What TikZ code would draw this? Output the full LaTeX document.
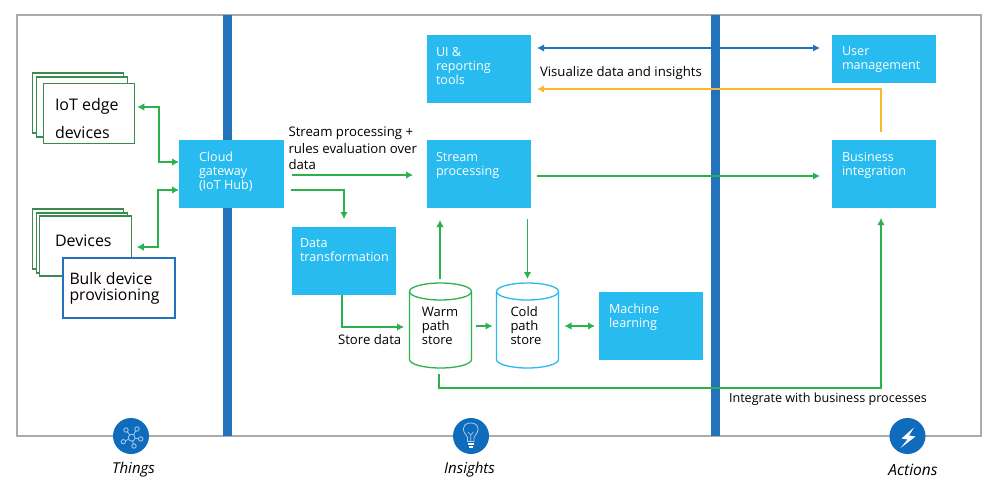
\documentclass[tikz,border=0pt]{standalone}
\usepackage{fontspec}
\setmainfont{Open Sans}
\usetikzlibrary{arrows.meta,calc}
\definecolor{cy}{HTML}{27BBEF}
\definecolor{barc}{HTML}{2273BC}
\definecolor{gr}{HTML}{2BB24C}
\definecolor{dgr}{HTML}{3C8B4E}
\definecolor{org}{HTML}{FBB82E}
\definecolor{framec}{HTML}{ABABAB}
\definecolor{discc}{HTML}{0F6CBD}
\definecolor{pale}{HTML}{A9CDEE}
\newcommand{\bxt}[4]{\parbox[c][#1pt][t]{#2pt}{\vspace*{#3pt}\fontsize{12.6}{14}\selectfont\color{white}\raggedright #4}}
\newcommand{\cylshape}[2]{%
 \draw[#2,line width=1.3pt] ([yshift=-8.5pt]#1.north) ellipse [x radius=31pt,y radius=8.5pt];
 \draw[#2,line width=1.3pt] ([yshift=-8.5pt]#1.north west) -- ([yshift=8.5pt]#1.south west) arc[start angle=180,end angle=360,x radius=31pt,y radius=8.5pt] -- ([yshift=-8.5pt]#1.north east);
}
\tikzset{
 x=1pt,y=-1pt,
 every node/.style={inner sep=0,outer sep=0},
 cybox/.style={fill=cy,draw=none,anchor=center},
 stack/.style={draw=dgr,line width=1.4pt,fill=white,minimum width=91.5pt,minimum height=60pt},
 flow/.style={gr,line width=1.2pt,-{Latex[length=7pt,width=7.5pt]}},
 both/.style={flow,{Latex[length=7pt,width=7.5pt]}-{Latex[length=7pt,width=7.5pt]}},
 lbl/.style={font=\fontsize{13.2}{16.5}\selectfont,align=left,anchor=west},
 store/.style={minimum width=62pt,minimum height=85pt},
 storetxt/.style={font=\fontsize{13}{14}\selectfont,align=left},
 discn/.style={circle,fill=discc,minimum size=36pt},
 captxt/.style={font=\fontsize{15}{16}\selectfont\itshape},
 ico/.style={pale,line width=.8pt},
}
\begin{document}
\begin{tikzpicture}
\useasboundingbox (0,0) rectangle (988,498);
\fill[white] (0,0) rectangle (988,498);
\draw[framec,line width=1.2pt] (17,15) rectangle (981,436);
\fill[barc] (223,15) rectangle (232,436);
\fill[barc] (711,15) rectangle (720,436);
% stacks
\node[stack] (i3) at (78,103) {};
\node[stack] (i2) at (82,107) {};
\node[stack] (iot) at (89,113.5) {};
\node[font=\fontsize{16}{28}\selectfont,align=left,anchor=west] (iott) at (55,118.5) {IoT edge\\devices};
\node[stack] (d3) at (78,239) {};
\node[stack] (d2) at (82,243) {};
\node[stack] (dev) at (85.5,246) {};
\node[font=\fontsize{16}{18}\selectfont,anchor=west] (devt) at (55,241) {Devices};
\node[draw=barc,line width=2pt,fill=white!97!pink,minimum width=112pt,minimum height=60pt] (bulk) at (119.2,287.5) {};
\node[font=\fontsize{15.8}{16}\selectfont,align=left,anchor=west] (bulkt) at (69.5,288) {Bulk device\\provisioning};
% boxes
\node[cybox] (gw) at (231.5,174) {\bxt{68}{105}{12}{\hspace*{20pt}Cloud\\\hspace*{20pt}gateway\\\hspace*{20pt}(IoT Hub)}};
\node[cybox] (dt) at (344,261) {\bxt{68}{104}{12}{\hspace*{8pt}Data\\\hspace*{8pt}transformation}};
\node[cybox] (ui) at (479,69) {\bxt{68}{104}{12}{\hspace*{9pt}UI \&\\\hspace*{9pt}reporting\\\hspace*{9pt}tools}};
\node[cybox] (sp) at (479,174) {\bxt{68}{104}{12}{\hspace*{9pt}Stream\\\hspace*{9pt}processing}};
\node[cybox] (um) at (884,59) {\bxt{48}{104}{12}{\hspace*{10pt}User\\\hspace*{10pt}management}};
\node[cybox] (bi) at (884,174) {\bxt{68}{104}{12}{\hspace*{10pt}Business\\\hspace*{10pt}integration}};
\node[cybox] (ml) at (651,326) {\bxt{68}{104}{12}{\hspace*{10pt}Machine\\\hspace*{10pt}learning}};
% stores
\node[store] (warm) at (440.5,325.5) {};
\cylshape{warm}{gr}
\node[storetxt] (warmt) at (440,325.5) {Warm\\path\\store};
\node[store] (cold) at (527.5,325.5) {};
\cylshape{cold}{cy}
\node[storetxt] (coldt) at (526,325.5) {Cold\\path\\store};
% connectors
\draw[both] ([xshift=2.5pt,yshift=6.5pt]iot.east) -| (159,162) -- ([yshift=12pt]gw.west);
\draw[both] ([xshift=5.5pt,yshift=-1pt]dev.east) -| (158,190) -- ([yshift=-16pt]gw.west);
\draw[flow] ([xshift=8pt,yshift=-1pt]gw.east) -- ([xshift=-14pt,yshift=-1pt]sp.west);
\draw[flow] ([xshift=7pt,yshift=-16pt]gw.east) -| ([yshift=8pt]dt.north);
\draw[flow] ([xshift=-2pt]dt.south) |- ([xshift=-5.5pt,yshift=-1.5pt]warm.west);
\draw[flow] ([yshift=4pt,xshift=-.5pt]warm.north) -- ([xshift=13pt,yshift=-12pt]sp.south west);
\draw[flow] ([xshift=48.5pt,yshift=-11pt]sp.south) -- ([yshift=4pt]cold.north);
\draw[flow] ([xshift=4.5pt,yshift=-.5pt]warm.east) -- ([xshift=-4pt,yshift=-.5pt]cold.west);
\draw[both] ([xshift=6pt,yshift=-.5pt]cold.east) -- ([xshift=-4pt]ml.west);
\draw[flow] ([yshift=-6pt,xshift=-1.5pt]warm.south) |- (881,388) -- ([xshift=-3pt,yshift=-10pt]bi.south);
\draw[flow,line width=1.5pt] ([xshift=6pt,yshift=-2pt]sp.east) -- ([xshift=-12pt,yshift=-2pt]bi.west);
\draw[both,barc,line width=1.5pt] ([xshift=6pt,yshift=21pt]ui.east) -- ([xshift=-12pt,yshift=11pt]um.west);
\draw[flow,org,line width=1.3pt] ([xshift=-3pt,yshift=8pt]bi.north) |- ([xshift=6pt,yshift=-20pt]ui.east);
% labels
\node[lbl] (l1) at (288.5,148.5) {Stream processing +\\rules evaluation over\\data};
\node[lbl] (l2) at (540,73.5) {Visualize data and insights};
\node[lbl] (l3) at (338,339.5) {Store data};
\node[lbl,font=\fontsize{12.6}{14}\selectfont] (l4) at (729,399) {Integrate with business processes};
% discs
\node[discn] (dthings) at (131,436) {};
\node[discn] (dins) at (471,436) {};
\node[discn] (dact) at (907.5,436) {};
\node[captxt] (c1) at (133.5,469.5) {Things};
\node[captxt] (c2) at (469.5,469.5) {Insights};
\node[captxt,font=\fontsize{15.5}{16}\selectfont\itshape] (c3) at (913,469.5) {Actions};
% icon: things
\draw[ico] (131.7,437.7) circle (3.4);
\foreach \a/\b in {126/430,137/429,140.7/439,134/446,123.3/441.7}{
  \draw[ico] (\a,\b) circle (2.2);
  \draw[ico,shorten >=2.2pt,shorten <=3.4pt] (131.7,437.7) -- (\a,\b);
}
% icon: bulb
\draw[ico] (467.5,441.5) -- (467.5,437.5) .. controls (466,433.5) and (463,433) .. (463.5,428.5) .. controls (464,424) and (468,423) .. (470.7,423) .. controls (474,423) and (478,424.5) .. (478,429) .. controls (478,433) and (475.5,434) .. (474,437.5) -- (474,441.5) -- cycle;
\draw[ico,line width=.6pt] (468,432) -- (470.7,435) -- (473.5,432) (470.7,435) -- (470.7,441);
\fill[white] (467.5,443) rectangle (474,445);
\fill[white] (468.5,446) rectangle (473,448);
% icon: bolt
\fill[white] (914,427.5) -- (901.5,438.5) -- (907.5,439.5) -- (900.5,448) -- (915.5,436.5) -- (909,435.5) -- cycle;
\end{tikzpicture}
\end{document}
